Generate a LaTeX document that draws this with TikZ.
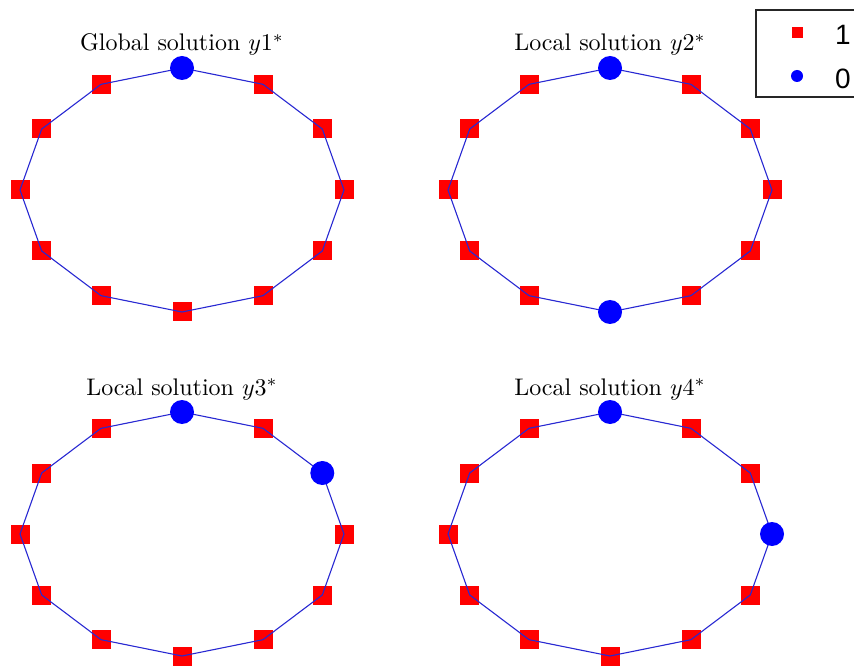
\documentclass[tikz,border=0pt]{standalone}
\usepackage{fontspec}
\newfontfamily\legendfont{Liberation Sans}
\pgfdeclarelayer{back}
\pgfdeclarelayer{front}
\pgfsetlayers{back,main,front}
\definecolor{mred}{RGB}{255,0,0}
\definecolor{mblue}{RGB}{0,0,255}
\definecolor{lblue}{RGB}{40,40,210}
\begin{document}
\begin{tikzpicture}[x=1pt,y=-1pt,
  sqmark/.style={rectangle, fill=mred, draw=none, minimum size=19pt, inner sep=0pt},
  cmark/.style={circle, fill=mblue, draw=none, minimum size=24pt, inner sep=0pt},
  ring/.style={draw=lblue, line width=1.1pt, line join=round},
  titletext/.style={anchor=base, inner sep=0pt, scale=2.4, font=\fontsize{10}{12}\selectfont},
  legtext/.style={anchor=base west, inner sep=0pt, font=\legendfont\fontsize{28}{32}\selectfont}]
\useasboundingbox (0,0) rectangle (854,668);
\foreach \p/\n/\cx/\cy/\ttl/\ca/\cb in {a/1/182/190/Global/90/90, b/2/610/190/Local/90/270, c/3/182/534/Local/90/30, d/4/610/534/Local/90/0}{
  \node[titletext] (t\p) at (\cx,\cy-139) {\ttl{} solution $y\n^*$};
  \foreach \k in {0,...,11}{
    \pgfmathtruncatemacro\ang{\k*30}
    \pgfmathsetmacro\px{\cx+162*cos(\ang)}
    \pgfmathsetmacro\py{\cy-122*sin(\ang)}
    \ifnum\ang=\ca \def\isc{1}\else\ifnum\ang=\cb \def\isc{1}\else\def\isc{0}\fi\fi
    \ifnum\isc=1
      \begin{pgfonlayer}{front}\node[cmark] (\p\k) at (\px,\py) {};\end{pgfonlayer}
    \else
      \begin{pgfonlayer}{back}\node[sqmark] (\p\k) at (\px,\py) {};\end{pgfonlayer}
    \fi
  }
  \draw[ring] (\p0.center) -- (\p1.center) -- (\p2.center) -- (\p3.center) -- (\p4.center) -- (\p5.center) -- (\p6.center) -- (\p7.center) -- (\p8.center) -- (\p9.center) -- (\p10.center) -- (\p11.center) -- cycle;
}
% legend
\draw[draw=black!85, line width=1.6pt] (756,10) rectangle (880,97);
\node[rectangle, fill=mred, minimum size=11pt, inner sep=0pt] (lsq) at (797,33) {};
\node[circle, fill=mblue, minimum size=12pt, inner sep=0pt] (lci) at (797,76) {};
\node[legtext] (l1) at (835,45) {1};
\node[legtext] (l0) at (835,89) {0};
\end{tikzpicture}
\end{document}
